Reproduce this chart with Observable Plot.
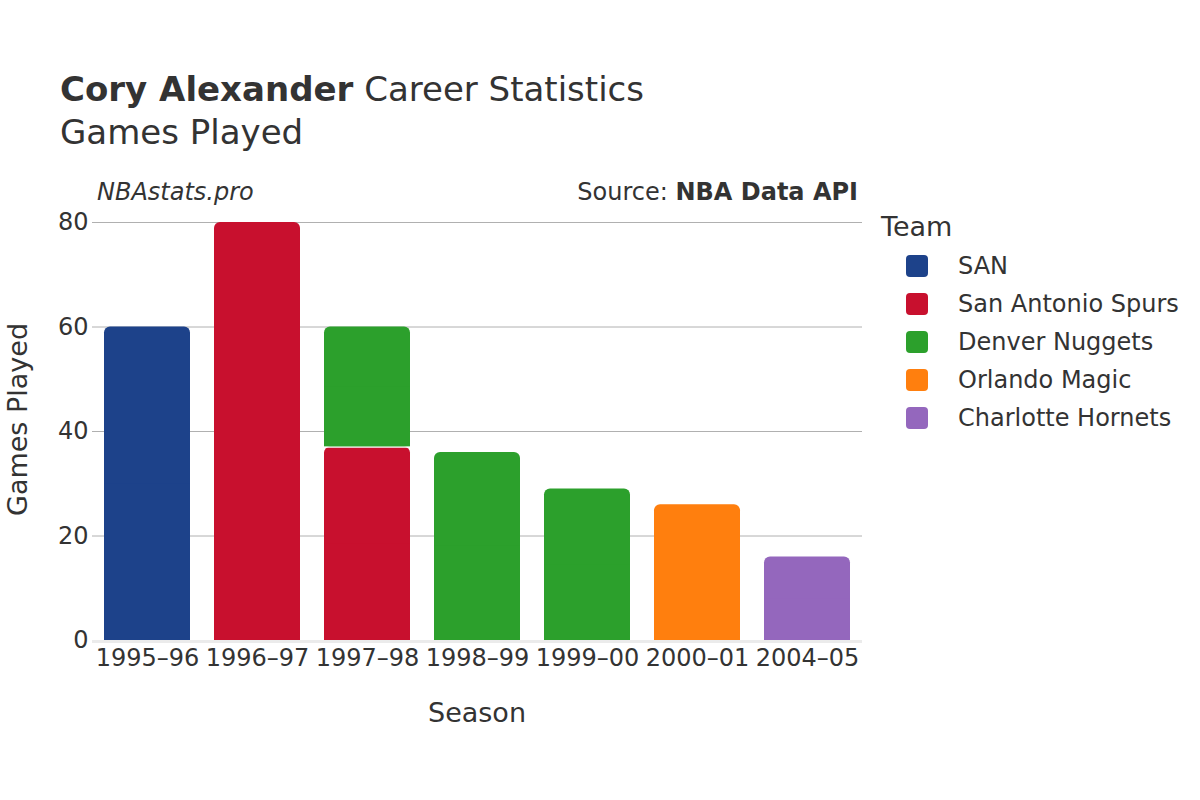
<!DOCTYPE html>
<html>
<head>
<meta charset="utf-8">
<script src="https://cdn.jsdelivr.net/npm/d3@7"></script>
<script src="https://cdn.jsdelivr.net/npm/@observablehq/plot@0.6"></script>
<style>
  html, body { margin: 0; padding: 0; background: #fff; }
  #wrap { position: relative; width: 1200px; height: 800px; font-family: "DejaVu Sans", sans-serif; color: #333; overflow: hidden; }
  .t { position: absolute; white-space: nowrap; }
  #chart { position: absolute; left: 0; top: 0; }
  .leg { position: absolute; left: 906px; display: flex; align-items: center; height: 38px; font-size: 24px; line-height: 24px; }
  .sw { width: 22px; height: 22px; border-radius: 4px; margin-right: 30px; }
</style>
</head>
<body>
<div id="wrap">
  <div class="t" style="left:60px; top:72px; font-size:34px; line-height:34px;"><b>Cory Alexander</b> Career Statistics</div>
  <div class="t" style="left:60px; top:115px; font-size:34px; line-height:34px;">Games Played</div>
  <div class="t" style="left:97px; top:180px; font-size:24px; line-height:24px; font-style:italic;">NBAstats.pro</div>
  <div class="t" style="right:342px; top:180px; font-size:24px; line-height:24px;">Source: <b>NBA Data API</b></div>
  <div class="t" style="left:881px; top:213px; font-size:27px; line-height:27px;">Team</div>
  <div class="t" style="left:427px; top:699px; font-size:27px; line-height:27px; width:100px; text-align:center;">Season</div>
  <div class="t" style="left:-83px; top:406px; width:200px; text-align:center; font-size:27px; line-height:27px; transform:rotate(-90deg);">Games Played</div>
  <div id="legend"></div>
  <div id="chart"></div>
</div>
<script>
const seasonOrder = ["1995–96","1996–97","1997–98","1998–99","1999–00","2000–01","2004–05"];
const seasons = ["1995–96","1996–97","1997–98","1997–98","1998–99","1999–00","2000–01","2004–05"];
const teams = ["SAN","San Antonio Spurs","San Antonio Spurs","Denver Nuggets","Denver Nuggets","Denver Nuggets","Orlando Magic","Charlotte Hornets"];
const games = [60,80,37,23,36,29,26,16];
const teamNames = ["SAN","San Antonio Spurs","Denver Nuggets","Orlando Magic","Charlotte Hornets"];
const teamColors = ["#1d428a","#c8102e","#2ca02c","#ff7f0e","#9467bd"];
const yTicks = [0,20,40,60,80];

// stack manually
const cum = {};
const rows = seasons.map((s, i) => {
  const y1 = cum[s] || 0;
  const y2 = y1 + games[i];
  cum[s] = y2;
  return {season: s, team: teams[i], y1, y2, mid: (y1 + y2) / 2};
});

const plot = Plot.plot({
  width: 1200,
  height: 800,
  marginTop: 222,
  marginBottom: 160,
  marginLeft: 92,
  marginRight: 338,
  style: {fontFamily: "DejaVu Sans, sans-serif", fontSize: "24px", color: "#333", background: "transparent"},
  x: {domain: seasonOrder, paddingInner: 0.22, paddingOuter: 0.11, label: null},
  y: {domain: [0, 80], label: null},
  color: {domain: teamNames, range: teamColors},
  marks: [
    Plot.ruleY(yTicks.filter(d => d > 0), {stroke: "#b0b0b0", strokeWidth: 1}),
    Plot.ruleY([0], {stroke: "#ebebeb", strokeWidth: 3, dy: 1}),
    Plot.barY(rows, {x: "season", y1: "y1", y2: "y2", fill: "team", rx: 6}),
    Plot.barY(rows, {x: "season", y1: "y1", y2: "mid", fill: "team"}),
    Plot.tickY(rows.filter(d => d.y1 > 0), {x: "season", y: "y1", stroke: "white", strokeWidth: 1.2}),
    Plot.axisX({tickSize: 0, tickPadding: 8, fontSize: 24, label: null}),
    Plot.axisY({ticks: yTicks, tickSize: 0, tickPadding: 4, fontSize: 24, label: null})
  ]
});
document.getElementById("chart").appendChild(plot);

const legend = document.getElementById("legend");
teamNames.forEach((name, i) => {
  const row = document.createElement("div");
  row.className = "leg";
  row.style.top = (247 + i * 38) + "px";
  const sw = document.createElement("div");
  sw.className = "sw";
  sw.style.background = teamColors[i];
  const lab = document.createElement("span");
  lab.textContent = name;
  row.appendChild(sw);
  row.appendChild(lab);
  legend.appendChild(row);
});
</script>
</body>
</html>
